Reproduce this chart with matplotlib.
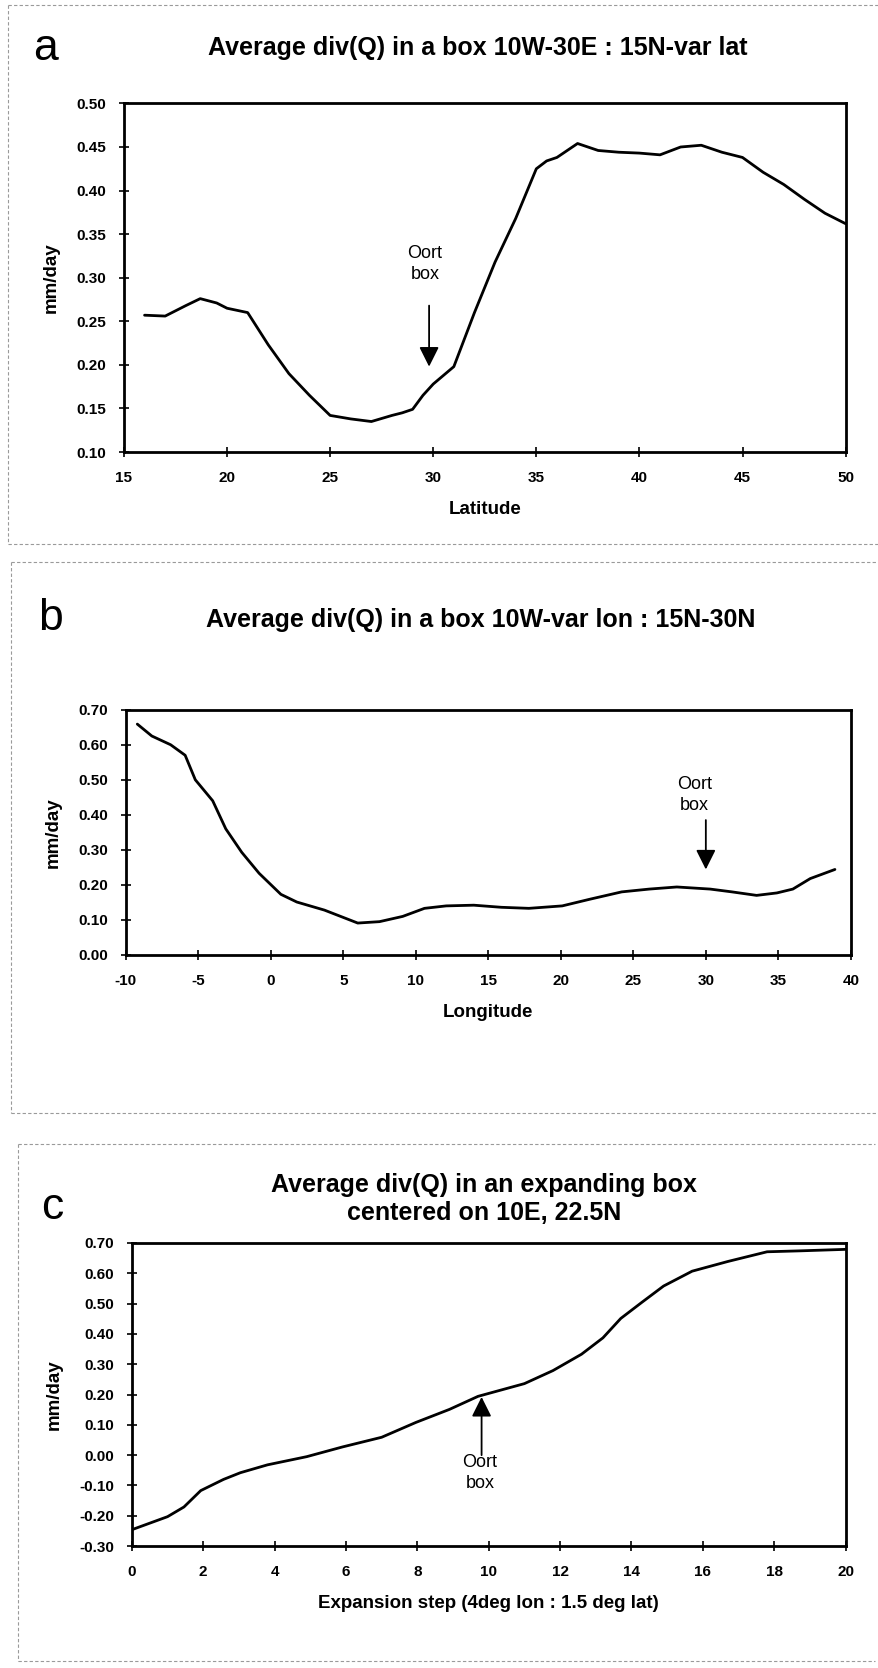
import matplotlib
matplotlib.use("Agg")
import matplotlib.pyplot as plt
from matplotlib.lines import Line2D
from matplotlib.ticker import FormatStrFormatter

plt.rcParams["font.family"] = ["Liberation Sans", "DejaVu Sans"]
plt.rcParams["axes.unicode_minus"] = False

# panel a: latitude scan
lat = [16, 17, 18, 18.7, 19.5, 20, 21, 22, 23, 24, 25, 26, 27, 28, 28.5, 29,
       29.5, 30, 31, 32, 33, 34, 35, 35.5, 36, 37, 38, 39, 40, 41, 42, 43,
       44, 45, 46, 47, 48, 49, 50]
divq_lat = [0.257, 0.256, 0.268, 0.276, 0.271, 0.265, 0.26, 0.223, 0.19,
            0.165, 0.142, 0.138, 0.135, 0.142, 0.145, 0.149, 0.165, 0.178,
            0.198, 0.26, 0.318, 0.368, 0.425, 0.434, 0.438, 0.454, 0.446,
            0.444, 0.443, 0.441, 0.45, 0.452, 0.444, 0.438, 0.421, 0.407,
            0.39, 0.374, 0.362]

# panel b: longitude scan
lon = [-9.2, -8.2, -6.9, -5.9, -5.2, -4.0, -3.1, -2.0, -0.8, 0.7, 1.8, 3.7,
       6.0, 7.5, 9.1, 10.6, 12.1, 14.0, 15.9, 17.8, 20.1, 22.0, 24.2, 26.1,
       28.0, 30.3, 31.8, 33.5, 34.9, 36.0, 37.2, 38.9]
divq_lon = [0.659, 0.625, 0.60, 0.57, 0.50, 0.44, 0.36, 0.293, 0.233, 0.173,
            0.151, 0.128, 0.091, 0.095, 0.11, 0.133, 0.14, 0.142, 0.136,
            0.133, 0.14, 0.159, 0.18, 0.188, 0.194, 0.188, 0.18, 0.17, 0.177,
            0.188, 0.218, 0.244]

# panel c: expanding box
step = [0, 1.0, 1.46, 1.93, 2.57, 3.04, 3.8, 4.9, 5.9, 7.0, 7.96, 8.9, 9.7,
        11.0, 11.8, 12.6, 13.2, 13.7, 14.3, 14.9, 15.7, 16.7, 17.8, 18.7, 20]
divq_step = [-0.246, -0.203, -0.171, -0.117, -0.080, -0.058, -0.032, -0.005,
             0.027, 0.059, 0.108, 0.151, 0.194, 0.236, 0.279, 0.333, 0.387,
             0.451, 0.505, 0.558, 0.607, 0.639, 0.671, 0.674, 0.679]

fig = plt.figure(figsize=(8.79, 16.68), dpi=100)


def style_axes(ax, xlim, ylim, xticks, yticks, xlabel):
    ax.set_xlim(*xlim)
    ax.set_ylim(*ylim)
    ax.set_xticks(xticks)
    ax.set_yticks(yticks)
    ax.yaxis.set_major_formatter(FormatStrFormatter("%.2f"))
    ax.tick_params(direction="inout", length=7, width=1.2, labelsize=11)
    ax.tick_params(axis="y", pad=9)
    ax.tick_params(axis="x", pad=10)
    for lbl in ax.get_xticklabels() + ax.get_yticklabels():
        lbl.set_fontweight("bold")
    for sp in ax.spines.values():
        sp.set_linewidth(2)
    ax.set_xlabel(xlabel, fontsize=13.5, fontweight="bold", labelpad=12)
    ax.set_ylabel("mm/day", fontsize=13.5, fontweight="bold", labelpad=12)


arrow_props = dict(arrowstyle="-|>", color="black", lw=1.3, mutation_scale=30,
                   shrinkA=0, shrinkB=0)
line_kw = dict(color="black", lw=2, solid_joinstyle="round", solid_capstyle="round")

# ---- a ----
ax_a = fig.add_axes([0.141, 0.729, 0.821, 0.209])
ax_a.plot(lat, divq_lat, **line_kw)
style_axes(ax_a, (15, 50), (0.10, 0.50), range(15, 51, 5),
           [0.10, 0.15, 0.20, 0.25, 0.30, 0.35, 0.40, 0.45, 0.50], "Latitude")
ax_a.annotate("", xy=(29.8, 0.198), xytext=(29.8, 0.268), arrowprops=arrow_props)
ax_a.text(29.6, 0.316, "Oort\nbox", ha="center", va="center", fontsize=13,
          linespacing=1.3)

# ---- b ----
ax_b = fig.add_axes([0.143, 0.4275, 0.825, 0.147])
ax_b.plot(lon, divq_lon, **line_kw)
style_axes(ax_b, (-10, 40), (0.0, 0.70), range(-10, 41, 5),
           [0.0, 0.1, 0.2, 0.3, 0.4, 0.5, 0.6, 0.7], "Longitude")
ax_b.annotate("", xy=(30.0, 0.244), xytext=(30.0, 0.385), arrowprops=arrow_props)
ax_b.text(29.2, 0.457, "Oort\nbox", ha="center", va="center", fontsize=13,
          linespacing=1.3)

# ---- c ----
ax_c = fig.add_axes([0.150, 0.0731, 0.812, 0.1817])
ax_c.plot(step, divq_step, **line_kw)
style_axes(ax_c, (0, 20), (-0.30, 0.70), range(0, 21, 2),
           [-0.3, -0.2, -0.1, 0.0, 0.1, 0.2, 0.3, 0.4, 0.5, 0.6, 0.7],
           "Expansion step (4deg lon : 1.5 deg lat)")
ax_c.annotate("", xy=(9.8, 0.192), xytext=(9.8, 0.0), arrowprops=arrow_props)
ax_c.text(9.75, -0.058, "Oort\nbox", ha="center", va="center", fontsize=13,
          linespacing=1.3)

# panel letters and titles
fig.text(0.052, 0.971, "a", fontsize=32, ha="center", va="center")
fig.text(0.543, 0.971, "Average div(Q) in a box 10W-30E : 15N-var lat",
         fontsize=18, fontweight="bold", ha="center", va="center")
fig.text(0.057, 0.629, "b", fontsize=32, ha="center", va="center")
fig.text(0.547, 0.628, "Average div(Q) in a box 10W-var lon : 15N-30N",
         fontsize=18, fontweight="bold", ha="center", va="center")
fig.text(0.060, 0.276, "c", fontsize=32, ha="center", va="center")
fig.text(0.551, 0.281, "Average div(Q) in an expanding box\ncentered on 10E, 22.5N",
         fontsize=18, fontweight="bold", ha="center", va="center",
         linespacing=1.2)

# faint scan borders around the panels
border_kw = dict(color="#9a9a9a", lw=0.8, ls=(0, (3, 2)), transform=fig.transFigure)
for x0, x1, y_top, y_bot in [(0.009, 0.999, 0.997, 0.674),
                             (0.013, 0.999, 0.663, 0.333),
                             (0.020, 0.996, 0.314, 0.004)]:
    fig.add_artist(Line2D([x0, x1], [y_top, y_top], **border_kw))
    fig.add_artist(Line2D([x0, x1], [y_bot, y_bot], **border_kw))
    fig.add_artist(Line2D([x0, x0], [y_top, y_bot], **border_kw))

fig.savefig("out.png", dpi=100, facecolor="white")
